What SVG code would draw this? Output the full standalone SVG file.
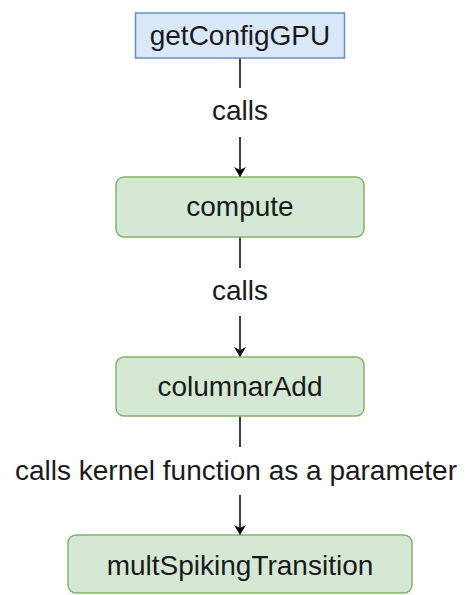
<svg xmlns="http://www.w3.org/2000/svg" width="470" height="595" viewBox="0 0 470 595">
<defs>
<marker id="arrow" viewBox="0 0 10 12" refX="10" refY="6" markerWidth="10" markerHeight="12" markerUnits="userSpaceOnUse" orient="auto">
<path d="M0,0 L10,6 L0,12 L3,6 Z" fill="#000"/>
</marker>
<style>
.lbl{font-family:"Liberation Sans",Arial,sans-serif;font-size:28px;fill:#1a1a1a;text-anchor:middle}
.blue{fill:#dae8fc;stroke:#6c8ebf;stroke-width:1.5}
.green{fill:#d5e8d4;stroke:#82b366;stroke-width:1.5}
.edge{stroke:#000;stroke-width:1.5;fill:none}
</style>
</defs>
<rect width="470" height="595" fill="#fff"/>
<g id="connectors">
<line class="edge" x1="240" y1="58" x2="240" y2="88"/>
<line class="edge" x1="240" y1="137" x2="240" y2="177" marker-end="url(#arrow)"/>
<text class="lbl" x="240" y="120">calls</text>
<line class="edge" x1="240" y1="237" x2="240" y2="268"/>
<line class="edge" x1="240" y1="316" x2="240" y2="357" marker-end="url(#arrow)"/>
<text class="lbl" x="240" y="300">calls</text>
<line class="edge" x1="240" y1="416" x2="240" y2="447"/>
<line class="edge" x1="240" y1="495" x2="240" y2="535" marker-end="url(#arrow)"/>
<text class="lbl" x="236" y="480">calls kernel function as a parameter</text>
</g>
<g id="getConfigGPU">
<rect class="blue" x="135.5" y="13" width="209" height="45"/>
<text class="lbl" x="240" y="45">getConfigGPU</text>
</g>
<g id="compute">
<rect class="green" x="116" y="177" width="248" height="60" rx="8"/>
<text class="lbl" x="240" y="216">compute</text>
</g>
<g id="columnarAdd">
<rect class="green" x="116" y="357" width="248" height="59" rx="8"/>
<text class="lbl" x="240" y="396">columnarAdd</text>
</g>
<g id="multSpikingTransition">
<rect class="green" x="68" y="535" width="344" height="58" rx="8"/>
<text class="lbl" x="240" y="575">multSpikingTransition</text>
</g>
</svg>
